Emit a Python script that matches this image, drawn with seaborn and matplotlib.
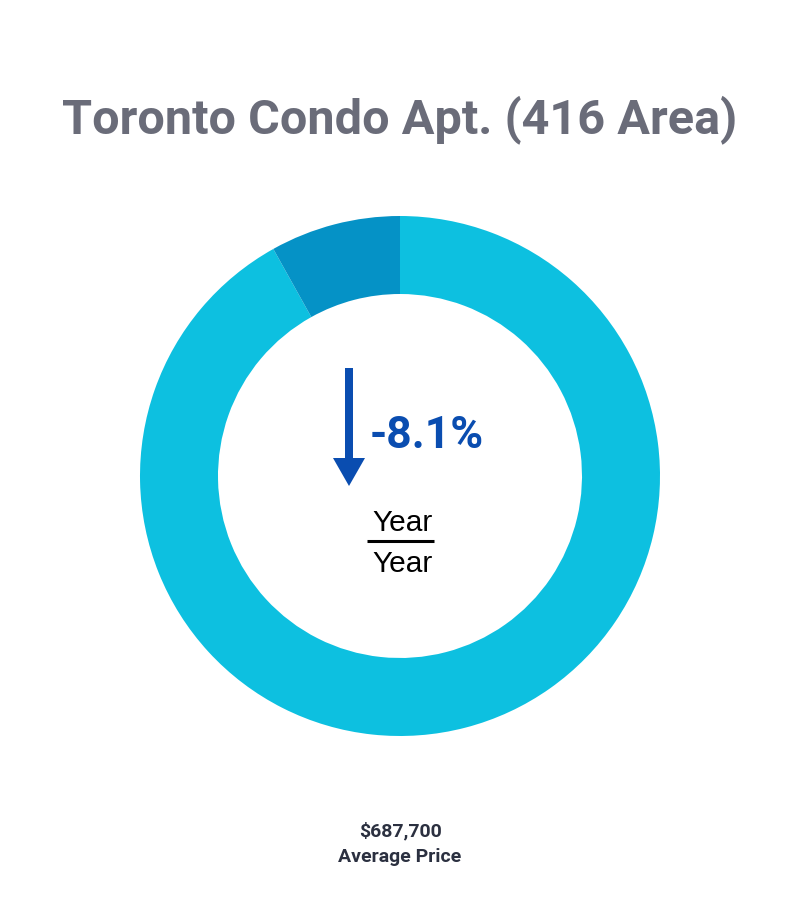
import matplotlib
matplotlib.use("Agg")
import matplotlib.pyplot as plt
import seaborn as sns
from matplotlib.patches import Polygon, Rectangle

# Data
segment_labels = ["Rest", "YoY change"]
segment_values = [91.9, 8.1]
segment_colors = ["#0DC0E0", "#0592C6"]
title_text = "Toronto Condo Apt. (416 Area)"
change_text = "-8.1%"
price_text = "$687,700"
price_label = "Average Price"

sns.set_theme(style="white")
plt.rcParams["font.family"] = ["Roboto", "DejaVu Sans"]

W, H = 793, 911
fig = plt.figure(figsize=(W / 100, H / 100), dpi=100)
fig.patch.set_facecolor("white")

# Donut axes
cx, cy, R = 400, 476, 260
ax = fig.add_axes([(cx - R) / W, (H - cy - R) / H, 2 * R / W, 2 * R / H])
ax.pie(segment_values, colors=segment_colors, startangle=90, counterclock=False,
       radius=1.0, wedgeprops=dict(width=0.3, linewidth=0, antialiased=True))
ax.set_xlim(-1, 1)
ax.set_ylim(-1, 1)
ax.set_aspect("equal")
ax.axis("off")

# Overlay axes in pixel space for annotations
ov = fig.add_axes([0, 0, 1, 1])
ov.set_xlim(0, W)
ov.set_ylim(H, 0)
ov.axis("off")
ov.patch.set_alpha(0)

ov.text(400, 120, title_text, ha="center", va="center", fontsize=35,
        fontweight="bold", color="#6A6C79")

# Arrow
arrow_color = "#0A4DB0"
ov.add_patch(Rectangle((345, 368), 8, 92, facecolor=arrow_color, edgecolor="none"))
ov.add_patch(Polygon([(333, 458), (365, 458), (349, 486)], closed=True,
                     facecolor=arrow_color, edgecolor="none"))
ov.text(427, 436, change_text, ha="center", va="center", fontsize=32,
        fontweight="bold", color=arrow_color)

ov.text(403, 523, "Year", ha="center", va="center", fontsize=21.5,
        color="black", family=["Liberation Sans", "DejaVu Sans"])
ov.plot([367, 434], [541, 541], color="black", lw=2.2, solid_capstyle="butt")
ov.text(403, 564, "Year", ha="center", va="center", fontsize=21.5,
        color="black", family=["Liberation Sans", "DejaVu Sans"])

ov.text(400, 831, price_text, ha="center", va="center", fontsize=14,
        fontweight="bold", color="#2B3040")
ov.text(400, 857, price_label, ha="center", va="center", fontsize=14,
        fontweight="bold", color="#2B3040")

fig.savefig("out.png", dpi=100, facecolor="white")
